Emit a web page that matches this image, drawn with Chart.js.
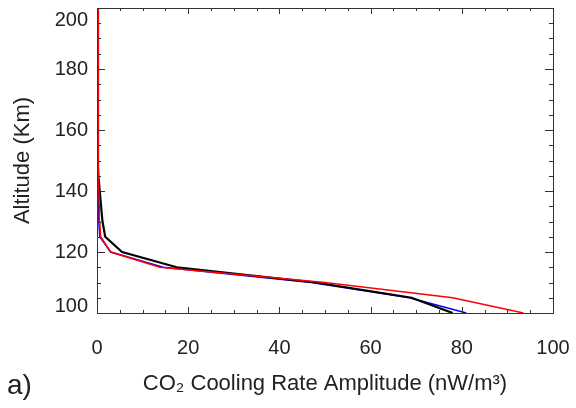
<!DOCTYPE html>
<html>
<head>
<meta charset="utf-8">
<script src="https://cdn.jsdelivr.net/npm/chart.js@4.4.0/dist/chart.umd.min.js"></script>
<style>
  html, body { margin: 0; padding: 0; background: #fff; }
</style>
</head>
<body>
<canvas id="myChart" width="576" height="408"></canvas>
<script>
// Altitude grid (km) and cooling rate amplitudes (nW/m^3)
const altitudes = [100, 105, 110, 115, 120, 125, 130, 135, 140, 145, 150, 155, 160, 165, 170, 175, 180, 185, 190, 195, 200];
const blueValues = [81, 68.5, 47, 14.5, 3, 0.6, 0.4, 0.3, 0.25, 0.2, 0.2, 0.15, 0.15, 0.15, 0.1, 0.1, 0.1, 0.1, 0.1, 0.1, 0.1];
const blackValues = [78, 69, 48, 17.5, 5.5, 1.8, 1.2, 0.9, 0.6, 0.3, 0.15, 0.1, 0.1, 0.1, 0.1, 0.1, 0.1, 0.1, 0.1, 0.1, 0.1];
const redValues = [93.5, 78, 50, 13.8, 3, 0.8, 0.6, 0.5, 0.4, 0.35, 0.3, 0.3, 0.3, 0.3, 0.3, 0.3, 0.3, 0.3, 0.3, 0.3, 0.3];

const xTickLabels = [0, 20, 40, 60, 80, 100];
const yTickLabels = [100, 120, 140, 160, 180, 200];

const FONT = "'Liberation Sans', Arial, Helvetica, sans-serif";
const TEXT_COLOR = "#222";

function toPoints(values) {
    return values.map((v, i) => ({ x: v, y: altitudes[i] }));
}

// box, inward ticks on all four sides, y labels and panel letter
const idlFrame = {
    id: "idlFrame",
    afterDraw(chart) {
        const ctx = chart.ctx;
        const area = chart.chartArea;
        const xs = chart.scales.x;
        const ys = chart.scales.y;
        ctx.save();
        ctx.strokeStyle = "#333";
        ctx.lineWidth = 1;
        ctx.strokeRect(area.left + 0.5, area.top + 0.5, area.right - area.left, area.bottom - area.top);

        ctx.beginPath();
        for (let v = xs.min; v <= xs.max; v += 5) {
            const px = Math.round(xs.getPixelForValue(v)) + 0.5;
            const len = v % 20 === 0 ? 6 : 3;
            ctx.moveTo(px, area.bottom); ctx.lineTo(px, area.bottom - len);
            ctx.moveTo(px, area.top); ctx.lineTo(px, area.top + len);
        }
        for (let v = ys.min; v <= ys.max; v += 5) {
            const py = Math.round(ys.getPixelForValue(v)) + 0.5;
            const len = v % 20 === 0 ? 8 : 4;
            ctx.moveTo(area.left, py); ctx.lineTo(area.left + len, py);
            ctx.moveTo(area.right, py); ctx.lineTo(area.right - len, py);
        }
        ctx.stroke();

        // y tick labels, pulled inside at the ends like the original
        ctx.fillStyle = TEXT_COLOR;
        ctx.font = "20px " + FONT;
        ctx.textAlign = "right";
        ctx.textBaseline = "middle";
        yTickLabels.forEach(v => {
            let py = ys.getPixelForValue(v);
            py = Math.min(Math.max(py, area.top + 12), area.bottom - 7);
            ctx.fillText(String(v), area.left - 9, py);
        });

        ctx.font = "28px " + FONT;
        ctx.textAlign = "left";
        ctx.fillText("a)", 7, 386);
        ctx.restore();
    }
};

const ctx = document.getElementById("myChart").getContext("2d");

// first dataset is painted last, so red ends up on top as in the figure
new Chart(ctx, {
    type: "scatter",
    data: {
        datasets: [
            { label: "red", data: toPoints(redValues), borderColor: "#ff0000", borderWidth: 1.5 },
            { label: "black", data: toPoints(blackValues), borderColor: "#000000", borderWidth: 2.2 },
            { label: "blue", data: toPoints(blueValues), borderColor: "#0000ff", borderWidth: 1.5 }
        ].map(d => Object.assign(d, { showLine: true, pointRadius: 0, tension: 0, fill: false }))
    },
    options: {
        responsive: false,
        animation: false,
        devicePixelRatio: 1,
        layout: { padding: { top: 8, right: 23, left: 0, bottom: 0 } },
        plugins: {
            legend: { display: false },
            tooltip: { enabled: false }
        },
        scales: {
            x: {
                type: "linear",
                position: "bottom",
                min: 0,
                max: 100,
                afterFit: s => { s.height = 95; s.paddingLeft = 0; s.paddingRight = 0; },
                afterBuildTicks: s => { s.ticks = xTickLabels.map(v => ({ value: v })); },
                ticks: { font: { family: FONT, size: 20 }, color: TEXT_COLOR, padding: 23, maxRotation: 0 },
                grid: { display: false, drawTicks: false },
                border: { display: false },
                title: {
                    display: true,
                    text: "CO\u2082 Cooling Rate Amplitude (nW/m\u00B3)",
                    font: { family: FONT, size: 22 },
                    color: TEXT_COLOR,
                    padding: { top: 0, bottom: 11 }
                }
            },
            y: {
                type: "linear",
                min: 100,
                max: 200,
                afterFit: s => { s.width = 97; s.paddingTop = 0; s.paddingBottom = 0; },
                ticks: { display: false, stepSize: 20 },
                grid: { display: false, drawTicks: false },
                border: { display: false },
                title: {
                    display: true,
                    text: "Altitude (Km)",
                    font: { family: FONT, size: 22 },
                    color: TEXT_COLOR,
                    padding: { top: 10, bottom: 0 }
                }
            }
        }
    },
    plugins: [idlFrame]
});
</script>
</body>
</html>
